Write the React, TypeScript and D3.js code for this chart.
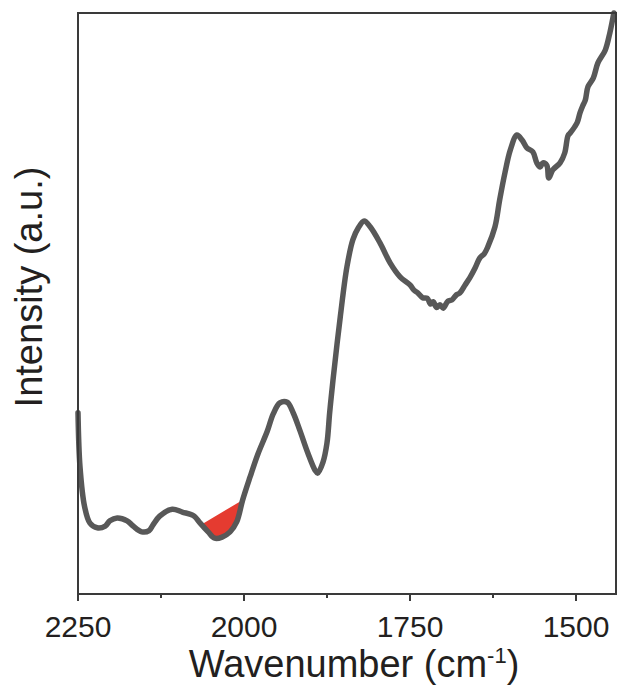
import React from "react";
import * as d3 from "d3";

const wavenumber = [
  2250, 2247, 2240, 2232, 2221, 2209, 2202, 2191, 2176, 2167, 2154, 2143, 2137,
  2127, 2108, 2093, 2078, 2074, 2066, 2054, 2044, 2033, 2021, 2011, 2002, 1991,
  1979, 1965, 1956, 1946, 1935, 1926, 1916, 1904, 1893, 1889, 1881, 1875, 1871,
  1866, 1855, 1845, 1836, 1828, 1819, 1810, 1795, 1780, 1765, 1750, 1744, 1738,
  1731, 1724, 1719, 1715, 1710, 1705, 1700, 1693, 1687, 1680, 1675, 1667, 1660,
  1652, 1645, 1638, 1633, 1622, 1615, 1607, 1599, 1589, 1581, 1574, 1565, 1559,
  1554, 1550, 1544, 1541, 1535, 1524, 1517, 1512, 1509, 1502, 1498, 1494, 1490,
  1486, 1482, 1474, 1467, 1456, 1449, 1443,
];
const intensity = [
  31.2, 21.9, 15.0, 12.2, 11.4, 11.7, 12.6, 13.1, 12.6, 11.7, 10.7, 10.9, 11.9,
  13.4, 14.6, 14.1, 13.6, 13.3, 12.2, 10.7, 9.6, 9.8, 10.7, 12.4, 16.2, 20.1,
  24.1, 28.0, 31.0, 32.9, 33.0, 31.2, 28.2, 24.3, 21.3, 20.8, 22.7, 26.0, 31.2,
  36.8, 47.7, 56.3, 61.0, 63.0, 64.2, 63.2, 60.4, 57.0, 54.6, 53.2, 52.3, 51.8,
  51.0, 50.9, 49.9, 50.3, 49.3, 49.8, 49.2, 50.4, 50.6, 51.5, 51.8, 53.2, 54.4,
  56.1, 57.8, 58.6, 59.7, 63.2, 67.8, 72.5, 76.4, 79.0, 78.1, 76.8, 76.1, 74.2,
  73.5, 74.2, 73.8, 71.6, 73.0, 74.2, 75.9, 78.9, 79.3, 80.4, 81.2, 82.8, 84.0,
  85.0, 87.3, 88.8, 91.4, 93.6, 96.6, 100,
];
const xTicks = [2250, 2000, 1750, 1500];
const xMinorTicks = [2125, 1875, 1625];
const highlightRange = [2064, 2002];

const W = 619;
const H = 694;
const left = 78;
const right = 616;
const top = 13;
const bottom = 594;

export default function App() {
  const x = d3.scaleLinear().domain([2250, 1440]).range([left, left + (810 * 166) / 250]);
  const y = d3.scaleLinear().domain([0, 100]).range([bottom, top]);
  const pts: [number, number][] = wavenumber.map((w, i) => [w, intensity[i]]);

  const line = d3
    .line<[number, number]>()
    .x((d) => x(d[0]))
    .y((d) => y(d[1]))
    .curve(d3.curveCatmullRom.alpha(0.5));

  const interp = (w: number) => {
    for (let i = 0; i < pts.length - 1; i++) {
      const a = pts[i], b = pts[i + 1];
      if (w <= a[0] && w >= b[0]) {
        const t = (a[0] - w) / (a[0] - b[0]);
        return a[1] + t * (b[1] - a[1]);
      }
    }
    return 0;
  };
  const seg: [number, number][] = [
    [highlightRange[0], interp(highlightRange[0])],
    ...pts.filter((p) => p[0] < highlightRange[0] && p[0] > highlightRange[1]),
    [highlightRange[1], interp(highlightRange[1])],
  ];
  const segPath = line(seg) + "Z";

  const font = "'Liberation Sans', Arial, Helvetica, sans-serif";
  const frame = "#3a3a3a";

  return (
    <svg
      width={W}
      height={H}
      style={{ position: "absolute", left: 0, top: 0, background: "#fff" }}
    >
      <path d={segPath} fill="#e53b30" stroke="none" />
      <path
        d={line(pts) || ""}
        fill="none"
        stroke="#585858"
        strokeWidth={5.5}
        strokeLinejoin="round"
        strokeLinecap="round"
      />
      <rect
        x={left}
        y={top}
        width={right - left}
        height={bottom - top}
        fill="none"
        stroke={frame}
        strokeWidth={2}
      />
      {xTicks.map((t) => (
        <g key={t}>
          <line x1={x(t)} x2={x(t)} y1={bottom} y2={bottom + 7} stroke={frame} strokeWidth={2} />
          <text
            x={x(t)}
            y={637}
            textAnchor="middle"
            fontFamily={font}
            fontSize={30}
            fill="#231f20"
          >
            {t}
          </text>
        </g>
      ))}
      {xMinorTicks.map((t) => (
        <line key={t} x1={x(t)} x2={x(t)} y1={bottom} y2={bottom + 4} stroke={frame} strokeWidth={2} />
      ))}
      <text
        x={354}
        y={677}
        textAnchor="middle"
        fontFamily={font}
        fontSize={38}
        fill="#231f20"
      >
        Wavenumber (cm
        <tspan dy={-14} fontSize={22}>-1</tspan>
        <tspan dy={14}>)</tspan>
      </text>
      <text
        transform={`translate(42,287) rotate(-90)`}
        textAnchor="middle"
        fontFamily={font}
        fontSize={38}
        fill="#231f20"
      >
        Intensity (a.u.)
      </text>
    </svg>
  );
}
